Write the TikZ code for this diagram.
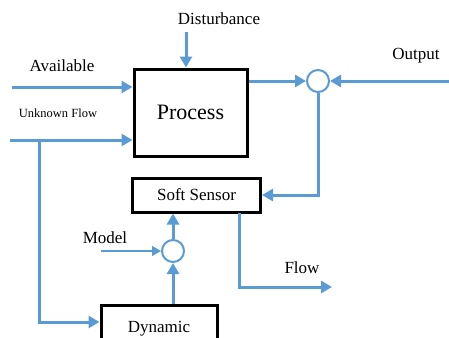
\documentclass[tikz,border=0pt]{standalone}
\usepackage{fontspec}
\setmainfont{Liberation Serif}
\usetikzlibrary{arrows.meta}
\definecolor{flowblue}{HTML}{5B9BD5}
\tikzset{
  blockbox/.style={draw=black, line width=3pt, fill=white, inner sep=0pt, font=\fontsize{17}{19}\selectfont},
  sumjunction/.style={circle, draw=flowblue, line width=2pt, fill=white, minimum size=22pt, inner sep=0pt},
  signal/.style={draw=flowblue, line width=3pt, -{Triangle[length=11pt,width=12pt]}},
  thinsignal/.style={draw=flowblue, line width=1.3pt, -{Triangle[length=9pt,width=10pt]}},
  lbl/.style={font=\fontsize{17}{19}\selectfont, inner sep=0pt},
}
\begin{document}
\begin{tikzpicture}[x=1pt, y=-1pt]
\useasboundingbox (0,0) rectangle (449,337);
\clip (0,0) rectangle (449,337);

% blocks
\node[blockbox, minimum width=113pt, minimum height=87pt, font=\fontsize{22}{24}\selectfont] (proc) at (190.5,112.5) {Process};
\node[blockbox, minimum width=128pt, minimum height=34pt] (soft) at (196.5,195) {Soft Sensor};
\node[blockbox, minimum width=116pt, minimum height=48pt] (dyn) at (159,329) {Dynamic};

% summing junctions
\node[sumjunction] (sumA) at (318,81) {};
\node[sumjunction] (sumB) at (173,251) {};

% labels
\node[lbl] (tDist) at (219,19) {Disturbance};
\node[lbl] (tAvail) at (62,66) {Available};
\node[lbl, font=\fontsize{12.5}{14}\selectfont] (tUnk) at (58,113) {Unknown Flow};
\node[lbl] (tOut) at (416,56) {Output};
\node[lbl] (tFlow) at (302,268) {Flow};
\node[lbl] (tModel) at (105,238) {Model};

% free ends
\coordinate (inDist) at (186,32);
\coordinate (inAvail) at (12,87);
\coordinate (inUnk) at (10,140);
\coordinate (tap) at (39,140);
\coordinate (dynLevel) at (0,322);
\coordinate (inOut) at (449,81);
\coordinate (sensTap) at (239,213);
\coordinate (flowEnd) at (332,287);
\coordinate (inModel) at (101,251);

% connectors
\draw[signal] (inDist) -- (inDist |- proc.north);
\draw[signal] (inAvail) -- (inAvail -| proc.west);
\draw[signal] (inUnk) -- (inUnk -| proc.west);
\draw[signal] (tap) |- (dyn.west |- dynLevel);
\draw[signal] (sumA -| proc.east) -- (sumA.west);
\draw[signal] (inOut) -- (sumA.east);
\draw[signal] (sumA.south) |- (soft.east);
\draw[signal] (sensTap) |- (flowEnd);
\draw[signal] (sumB.north) -- (sumB |- soft.south);
\draw[signal] (sumB |- dyn.north) -- (sumB.south);
\draw[thinsignal] (inModel) -- (sumB.west);
\end{tikzpicture}
\end{document}
